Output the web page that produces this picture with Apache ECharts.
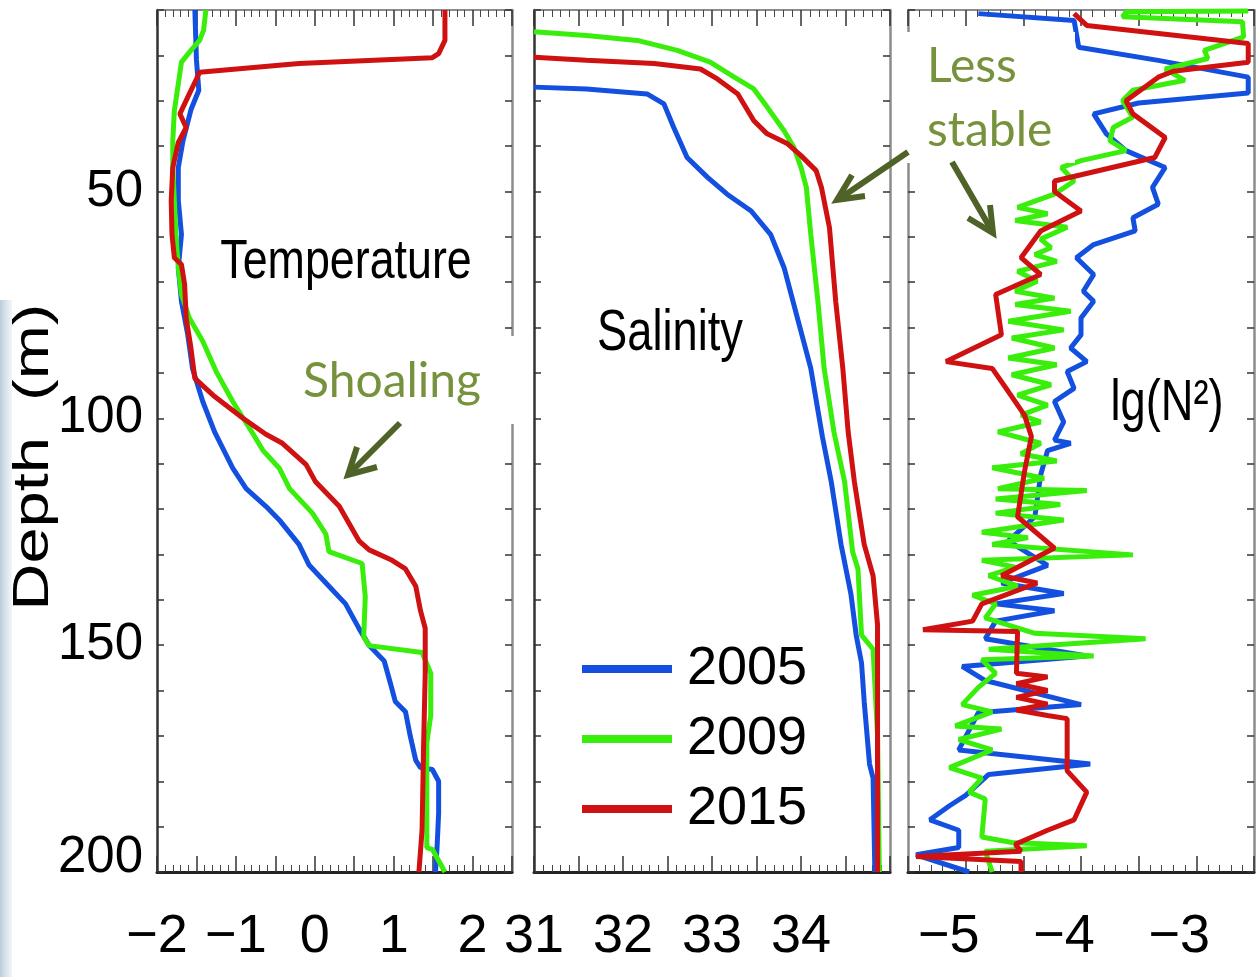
<!DOCTYPE html>
<html>
<head>
<meta charset="utf-8">
<script src="https://cdn.jsdelivr.net/npm/echarts@6/dist/echarts.min.js"></script>
<style>
  html, body { margin: 0; padding: 0; background: #fff; }
  #chart { width: 1257px; height: 977px; }
</style>
</head>
<body>
<div id="chart"></div>
<script>
// profiles: [value, depth in m]
var years = ['2005', '2009', '2015'];
var yearColors = ['#1450e0', '#38ee0a', '#cf1111'];

var temp2005 = [[-1.52,10],[-1.50,21],[-1.47,27.7],[-1.57,32],[-1.67,38.8],[-1.73,44.7],[-1.73,52],[-1.69,59.5],[-1.73,66.8],[-1.69,74.2],[-1.61,81.6],[-1.55,89],[-1.42,96.3],[-1.27,103],[-1.04,111],[-0.87,115.5],[-0.62,119.4],[-0.45,122.4],[-0.20,127.8],[-0.07,132.4],[0.18,137],[0.39,140.9],[0.56,146.3],[0.69,150.1],[0.88,153.5],[0.96,158.5],[1.02,162.4],[1.15,164.7],[1.21,170],[1.28,175.4],[1.34,177],[1.49,177.4],[1.57,180],[1.57,187],[1.55,194.6],[1.53,200]];
var temp2009 = [[-1.38,10],[-1.41,14.5],[-1.46,16.7],[-1.57,18.9],[-1.69,21.5],[-1.73,26.3],[-1.78,32.2],[-1.80,38.8],[-1.80,44.7],[-1.78,52],[-1.76,59.5],[-1.73,66.8],[-1.69,72.7],[-1.59,77.9],[-1.42,83],[-1.25,89.7],[-1.04,96.3],[-0.78,103.5],[-0.66,107],[-0.45,111],[-0.32,115.5],[-0.03,120.9],[0.14,125.5],[0.18,129.4],[0.60,132],[0.64,139.3],[0.62,148.2],[0.69,150.1],[1.36,151.6],[1.47,156.2],[1.47,165.5],[1.42,171.6],[1.42,194.6],[1.49,195],[1.65,200]];
var temp2015 = [[1.65,10],[1.65,16.7],[1.57,19.6],[1.49,20.5],[-0.20,21.8],[-1.46,23.7],[-1.50,25.2],[-1.61,29.2],[-1.71,32.9],[-1.63,35.9],[-1.73,39.2],[-1.80,44.7],[-1.82,52],[-1.81,59.5],[-1.78,64.6],[-1.69,66.1],[-1.65,70.5],[-1.63,77.9],[-1.57,84.5],[-1.52,91.2],[-1.29,94.9],[-0.91,100],[-0.62,103.5],[-0.41,105.5],[-0.11,110.2],[0.01,114],[0.31,119.4],[0.56,127],[0.69,129],[0.98,131.3],[1.15,133.2],[1.28,137],[1.34,142.4],[1.40,146.3],[1.40,156.2],[1.38,171.6],[1.36,190.8],[1.32,200]];

var sal2005 = [[31.0,27],[31.59,27.4],[32.27,28.5],[32.46,30.7],[32.57,35.9],[32.72,42.5],[32.95,46.9],[33.17,50.6],[33.44,54.3],[33.66,59.5],[33.81,66.8],[33.96,77.9],[34.11,89],[34.24,104],[34.34,114],[34.45,127.8],[34.56,138.6],[34.62,147.8],[34.68,153.9],[34.71,162.4],[34.77,176.2],[34.81,179.3],[34.83,200]];
var sal2009 = [[31.0,14.8],[31.59,15.6],[32.16,16.7],[32.61,18.9],[32.98,21.5],[33.25,24.8],[33.47,27.4],[33.62,31.4],[33.81,36.6],[33.92,40.3],[34.00,44.7],[34.06,49.1],[34.11,59.5],[34.19,74.2],[34.26,89],[34.37,103],[34.49,114],[34.58,129.4],[34.64,133.2],[34.68,147.8],[34.81,150.9],[34.86,170],[34.88,200]];
var sal2015 = [[31.0,20.4],[31.59,21.1],[32.35,21.8],[32.87,23],[33.06,25.2],[33.29,28.5],[33.47,34.4],[33.62,37.3],[33.85,39.5],[34.00,42.1],[34.17,45.4],[34.23,49.1],[34.32,58],[34.39,74.2],[34.47,89],[34.53,103],[34.60,114],[34.71,127.8],[34.81,134.7],[34.86,145.5],[34.86,200]];

var n2_2005 = [[-4.89,10.8],[-4.06,12.3],[-4.02,18.2],[-3.33,21.1],[-2.55,24.8],[-2.55,28.3],[-3.5,30.5],[-3.89,32.9],[-3.78,37.3],[-3.61,41],[-3.27,44.7],[-3.38,49.1],[-3.33,52.8],[-3.55,55.8],[-3.53,58.7],[-3.89,61.7],[-4.04,64.6],[-3.89,68.3],[-3.98,72],[-3.89,74.2],[-4.0,77.9],[-4.0,81.6],[-4.09,84.5],[-3.95,87.5],[-4.12,89.7],[-4.06,93.4],[-4.23,96.3],[-4.15,100.8],[-4.23,104.8],[-4.09,105.5],[-4.29,107.1],[-4.35,112.5],[-4.40,121.7],[-4.63,127],[-4.29,132.4],[-4.69,136.3],[-4.15,138.6],[-4.74,140.9],[-4.23,142.4],[-4.74,144.7],[-4.83,148.6],[-3.95,152.4],[-5.03,154.7],[-4.83,157.8],[-4.0,163.1],[-4.89,164.9],[-5.06,173.1],[-3.92,176.2],[-4.80,178.5],[-5.0,183.1],[-5.14,185.4],[-5.31,188.5],[-5.06,190.8],[-5.06,194.6],[-5.43,196.2],[-4.97,200]];
var n2_2009 = [[-2.55,10.2],[-3.61,10.4],[-3.64,11.5],[-2.6,12.6],[-2.59,15.9],[-2.93,18.9],[-2.90,20.7],[-3.27,23],[-3.10,25.5],[-3.55,27.7],[-3.64,30],[-3.55,33.6],[-3.72,35.9],[-3.75,38.8],[-3.61,41],[-4.0,43.2],[-4.17,44.7],[-4.06,47.7],[-4.23,50.6],[-4.55,53.5],[-4.29,54.9],[-4.57,56.4],[-4.12,57.9],[-4.35,60.5],[-4.26,62.4],[-4.40,63.9],[-4.21,65.4],[-4.55,67.6],[-4.38,69.8],[-4.57,72],[-4.23,73.5],[-4.57,74.9],[-4.09,76.4],[-4.63,78.6],[-4.15,80.5],[-4.60,82.3],[-4.23,84.5],[-4.63,86.7],[-4.21,88.2],[-4.60,90.4],[-4.26,92.6],[-4.55,94.9],[-4.29,97.1],[-4.52,99.3],[-4.35,100.8],[-4.72,103],[-4.35,105.5],[-4.52,107.8],[-4.21,109.4],[-4.77,110.9],[-4.32,113.2],[-4.72,115.5],[-3.95,115.9],[-4.74,117.8],[-4.18,119],[-4.74,120.9],[-4.15,122.4],[-4.86,125.1],[-4.46,126.3],[-4.77,127.8],[-3.55,130.1],[-4.86,131.3],[-4.57,132.8],[-4.80,134.7],[-4.55,137],[-4.94,139],[-4.74,140.9],[-4.83,144],[-4.40,147.4],[-3.44,148.6],[-4.80,150.9],[-3.89,152.4],[-4.86,153.2],[-4.74,156.2],[-4.89,159.3],[-5.03,163.1],[-4.77,164.7],[-5.09,167.8],[-4.69,168.5],[-5.06,170.8],[-4.77,173.1],[-5.14,177],[-4.86,179.3],[-4.97,182.4],[-4.83,183.9],[-4.86,192.3],[-4.60,193.5],[-3.95,194.2],[-4.83,195.4],[-4.77,200]];
var n2_2015 = [[-4.06,10.8],[-3.95,13.4],[-2.55,17.4],[-2.55,21.5],[-3.2,23.5],[-3.33,24.8],[-3.61,30],[-3.55,32.9],[-3.27,38.1],[-3.36,42.5],[-4.23,47.7],[-4.23,50],[-4.0,54.3],[-4.35,58.7],[-4.52,64.6],[-4.35,68.3],[-4.74,72.7],[-4.69,81.6],[-5.17,87.5],[-4.77,89],[-4.63,94.1],[-4.49,99.3],[-4.43,104],[-4.49,111.7],[-4.55,121.7],[-4.23,128.6],[-4.69,134.7],[-4.38,136.3],[-4.86,140.9],[-4.94,144.7],[-5.37,146.6],[-4.55,147],[-4.56,156.2],[-4.29,157],[-4.56,158.5],[-4.29,160],[-4.56,161.5],[-4.29,163],[-4.56,164.3],[-4.29,165.5],[-4.12,166.2],[-4.12,177.7],[-3.95,182.4],[-4.06,188.5],[-4.29,190.8],[-4.57,193.9],[-4.52,195.4],[-5.43,196.6],[-4.52,197.7],[-4.52,200]];

var panels = [
  { title: 'Temperature', min: -2, max: 2.5, hide: [], data: [temp2005, temp2009, temp2015] },
  { title: 'Salinity', min: 31, max: 35, hide: [35], data: [sal2005, sal2009, sal2015] },
  { title: 'lg(N²)', min: -5.5, max: -2.5, hide: [], data: [n2_2005, n2_2009, n2_2015] }
];
var depthMin = 10, depthMax = 200, depthStep = 10;

var FONT = '"Liberation Sans", Arial, sans-serif';
var NOTE_FONT = 'Lato, "Open Sans", sans-serif';
var olive = '#76923c', oliveDark = '#4f6228';

var grids = [
  { left: 157, top: 10, width: 355, height: 862 },
  { left: 534, top: 10, width: 356, height: 862 },
  { left: 908, top: 10, width: 356, height: 862 }
];

function isInt(v) { return Math.abs(v - Math.round(v)) < 1e-6; }
function minus(v) { return String(Math.round(v)).replace('-', '\u2212'); }

var xAxes = [], yAxes = [], series = [];
panels.forEach(function (p, i) {
  var common = {
    gridIndex: i, type: 'value', min: p.min, max: p.max, interval: 0.5,
    splitLine: { show: false },
    minorTick: { show: true, splitNumber: 5, length: 7, lineStyle: { color: '#444', width: 1 } },
    axisTick: { inside: true, length: 16, lineStyle: { color: '#333', width: 1.5 } }
  };
  xAxes.push(Object.assign({}, common, {
    position: 'bottom',
    axisLine: { onZero: false, lineStyle: { color: '#222', width: 3 } },
    axisLabel: {
      margin: 38, color: '#000', fontFamily: FONT, fontSize: 54,
      padding: i === 2 ? [0, 34, 0, 0] : 0,
      formatter: function (v) {
        if (!isInt(v) || p.hide.indexOf(Math.round(v)) >= 0) return '';
        return minus(v);
      }
    }
  }));
  xAxes.push(Object.assign({}, common, {
    position: 'top',
    axisLine: { onZero: false, lineStyle: { color: '#8c8c8c', width: 2 } },
    axisLabel: { show: false }
  }));
  var ycommon = {
    gridIndex: i, type: 'value', inverse: true, min: depthMin, max: depthMax, interval: depthStep,
    splitLine: { show: false },
    axisTick: { inside: true, length: 7, lineStyle: { color: '#333', width: 1.5 } }
  };
  yAxes.push(Object.assign({}, ycommon, {
    position: 'left',
    axisLine: { onZero: false, lineStyle: { color: i === 2 ? '#8c8c8c' : '#333', width: 2.5 } },
    axisLabel: {
      show: i === 0, margin: 14, color: '#000', fontFamily: FONT, fontSize: 51,
      formatter: function (v) {
        if (v % 50 !== 0) return '';
        return v === 200 ? '{s|200}' : String(v);
      },
      rich: { s: { fontFamily: FONT, fontSize: 51, color: '#000', padding: [0, 0, 28, 0] } }
    }
  }));
  yAxes.push(Object.assign({}, ycommon, {
    position: 'right',
    axisLine: { onZero: false, lineStyle: { color: '#8c8c8c', width: 2.5 } },
    axisLabel: { show: false }
  }));
  p.data.forEach(function (d, k) {
    series.push({
      type: 'line', name: years[k], xAxisIndex: 2 * i, yAxisIndex: 2 * i,
      data: d, color: yearColors[k], symbol: 'none', showSymbol: false,
      lineStyle: { width: 5, color: yearColors[k] }, z: 2 + k, animation: false
    });
  });
});

var chart = echarts.init(document.getElementById('chart'), null, { renderer: 'canvas' });
chart.setOption({
  backgroundColor: '#fff',
  animation: false,
  grid: grids,
  xAxis: xAxes,
  yAxis: yAxes,
  series: series,
  legend: {
    data: years, orient: 'vertical', left: 577, top: 637,
    icon: 'rect', itemWidth: 90, itemHeight: 8, itemGap: 16, selectedMode: false,
    textStyle: { fontFamily: FONT, fontSize: 54, lineHeight: 54, color: '#000', padding: [0, 0, 0, 10] }
  },
  graphic: [
    { type: 'rect', silent: true, z: 1, shape: { x: 0, y: 300, width: 12, height: 677 },
      style: { fill: new echarts.graphic.LinearGradient(0, 0, 1, 0, [
        { offset: 0, color: 'rgba(170,190,210,0.8)' }, { offset: 1, color: 'rgba(225,235,243,0.5)' }]) } },
    { type: 'rect', silent: true, z: 100, shape: { x: 293, y: 336, width: 228, height: 88 }, style: { fill: '#fff' } },
    { type: 'rect', silent: true, z: 100, shape: { x: 903, y: 32, width: 172, height: 131 }, style: { fill: '#fff' } },
    { type: 'text', z: 101, x: 346, y: 263, scaleX: 0.8,
      style: { text: panels[0].title, font: '56px ' + FONT, fill: '#000', textAlign: 'center', textVerticalAlign: 'middle' } },
    { type: 'text', z: 101, x: 670, y: 334, scaleX: 0.78,
      style: { text: panels[1].title, font: '58px ' + FONT, fill: '#000', textAlign: 'center', textVerticalAlign: 'middle' } },
    { type: 'text', z: 101, x: 1167, y: 404, scaleX: 0.78,
      style: { text: panels[2].title, font: '58px ' + FONT, fill: '#000', textAlign: 'center', textVerticalAlign: 'middle' } },
    { type: 'text', z: 101, x: 34, y: 457, rotation: Math.PI / 2, scaleX: 1.3,
      style: { text: 'Depth  (m)', font: '50px ' + FONT, fill: '#000', textAlign: 'center', textVerticalAlign: 'middle' } },
    { type: 'text', z: 101, x: 303, y: 382, style: { text: 'Shoaling', font: '48px ' + NOTE_FONT, fill: olive, textAlign: 'left', textVerticalAlign: 'middle' } },
    { type: 'text', z: 101, x: 927, y: 67, style: { text: 'Less', font: '48px ' + NOTE_FONT, fill: olive, textAlign: 'left', textVerticalAlign: 'middle' } },
    { type: 'text', z: 101, x: 927, y: 131, style: { text: 'stable', font: '48px ' + NOTE_FONT, fill: olive, textAlign: 'left', textVerticalAlign: 'middle' } },
    { type: 'polyline', z: 102, shape: { points: [[400, 423], [350, 473]] }, style: { stroke: oliveDark, lineWidth: 6, fill: null } },
    { type: 'polyline', z: 102, shape: { points: [[357, 447], [348, 475], [377, 467]] }, style: { stroke: oliveDark, lineWidth: 6, fill: null } },
    { type: 'polyline', z: 102, shape: { points: [[908, 152], [839, 199]] }, style: { stroke: oliveDark, lineWidth: 6, fill: null } },
    { type: 'polyline', z: 102, shape: { points: [[852, 175], [837, 200], [865, 196]] }, style: { stroke: oliveDark, lineWidth: 6, fill: null } },
    { type: 'polyline', z: 102, shape: { points: [[952, 162], [992, 231]] }, style: { stroke: oliveDark, lineWidth: 6, fill: null } },
    { type: 'polyline', z: 102, shape: { points: [[990, 205], [993, 233], [968, 218]] }, style: { stroke: oliveDark, lineWidth: 6, fill: null } }
  ]
});
</script>
</body>
</html>
